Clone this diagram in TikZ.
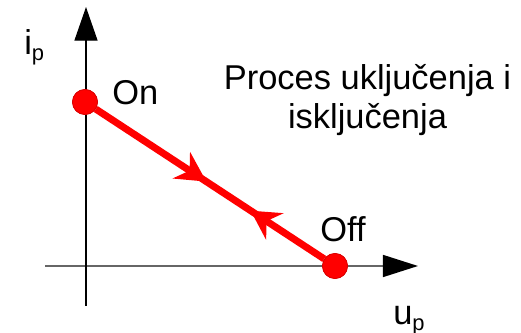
\documentclass[tikz,border=0pt]{standalone}
\usepackage{fontspec}
\setmainfont{Liberation Sans}
\usetikzlibrary{arrows.meta,decorations.markings}

\newcommand{\lbl}{\fontsize{24.5}{27.7}\selectfont}
\newcommand{\idx}[1]{\raisebox{-3.9pt}{\fontsize{15.6}{15.6}\selectfont #1}}

\tikzset{
    dot/.style={circle,fill=red,draw=red!85!black,line width=0.5pt,minimum size=17.8pt,inner sep=0pt},
    txt/.style={inner sep=0pt,font=\lbl},
    axisarrow/.style={-{Triangle[length=24pt,width=16.4pt]}},
    flow/.style={red,line width=5pt,postaction={decorate},decoration={markings,
        mark=at position 0.484 with {\fill[red] (0,0) -- (-30,16) -- (-20,0) -- (-30,-16) -- cycle;},
        mark=at position 0.678 with {\fill[red] (0,0) -- (29,16) -- (19,0) -- (29,-16) -- cycle;}}}
}

\begin{document}
\begin{tikzpicture}[x=0.025cm,y=-0.025cm]
    \useasboundingbox (0,0) rectangle (521,333);
    \coordinate (hl) at (45,266);
    \coordinate (hr) at (418,266);
    \coordinate (vb) at (86,306);
    \coordinate (vt) at (86,7);
    \draw[line width=1.4pt,color=black!60,-{Triangle[length=25pt,width=15.6pt,fill=black,color=black]}] (hl) -- (hr);
    \draw[line width=1pt,axisarrow] (vb) -- (vt);
    \node[dot] (on) at (85,102) {};
    \node[dot] (off) at (335,266) {};
    \draw[flow] (on) -- (off);
    \node[dot] at (on) {};
    \node[dot] at (off) {};
    \node[txt,anchor=base west] (lon) at (112,105) {On};
    \node[txt,anchor=base west] (loff) at (320,242) {Off};
    \node[txt,anchor=base west] (ip) at (24,55) {i\idx{p}};
    \node[txt,anchor=base west] (up) at (393,325) {u\idx{p}};
    \node[txt,align=center,anchor=north] (proc) at (367.5,64) {Proces uključenja i\\isključenja};
\end{tikzpicture}
\end{document}
